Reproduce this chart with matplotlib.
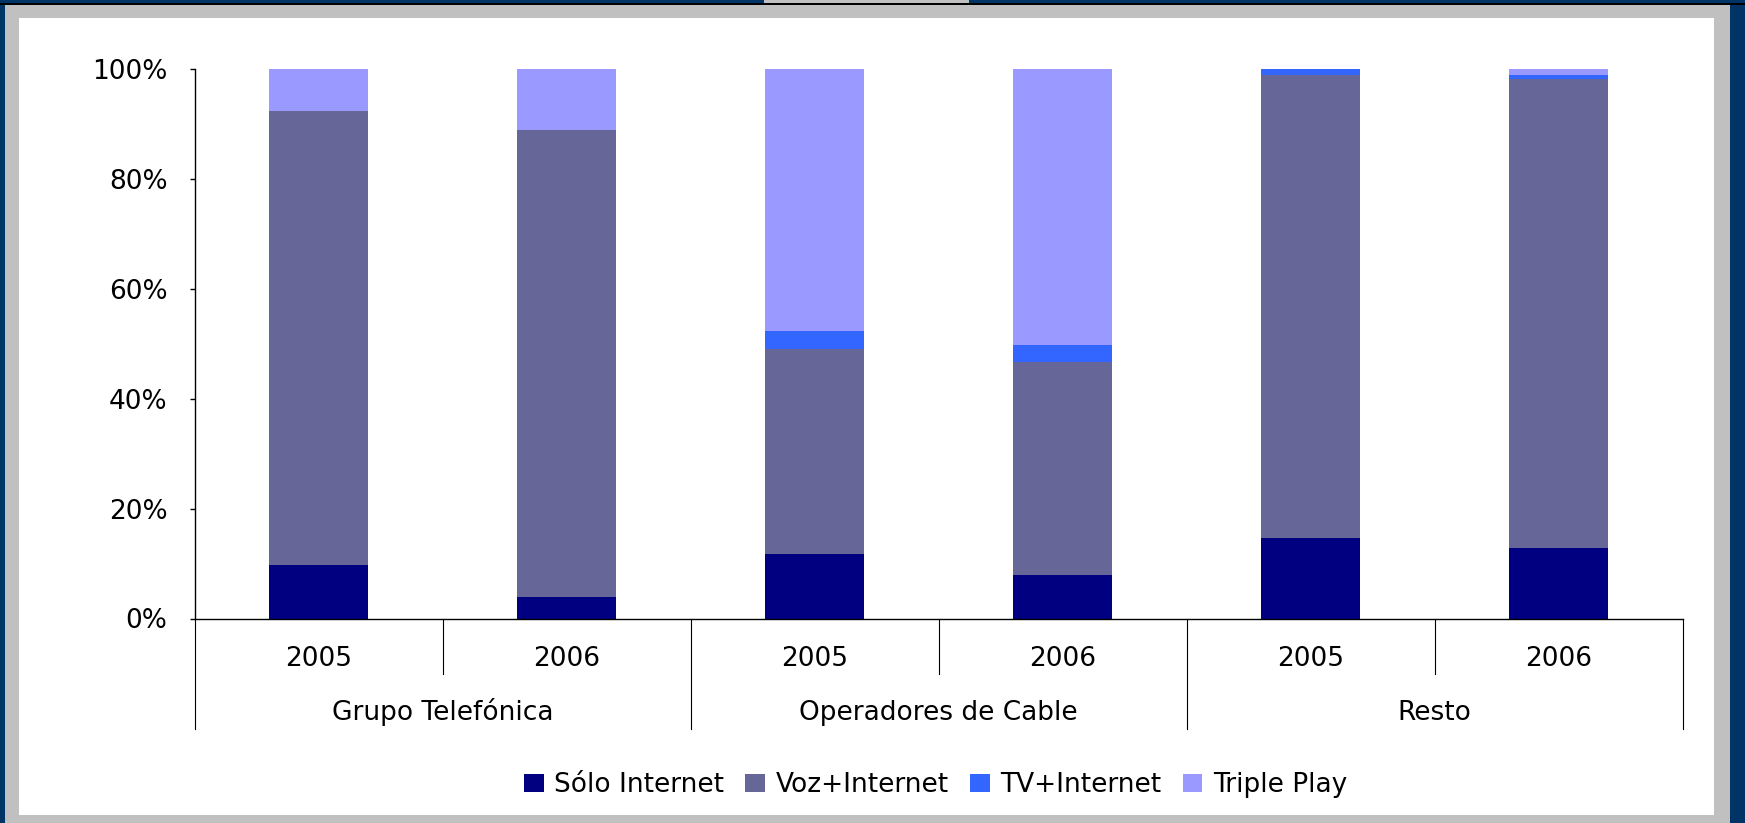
import matplotlib.pyplot as plt
import matplotlib.patches as mpatches
from matplotlib.ticker import PercentFormatter

plt.rcParams['font.family'] = ['DejaVu Sans']

years = ['2005', '2006', '2005', '2006', '2005', '2006']
groups = ['Grupo Telefónica', 'Operadores de Cable', 'Resto']
series = ['Sólo Internet', 'Voz+Internet', 'TV+Internet', 'Triple Play']
colors = ['#000080', '#666699', '#3366FF', '#9999FF']

solo = [9.7, 3.9, 11.7, 7.9, 14.6, 12.8]
voz = [82.6, 85.0, 37.3, 38.8, 84.3, 85.4]
tv = [0.0, 0.0, 3.3, 3.1, 1.1, 0.7]
triple = [7.7, 11.1, 47.7, 50.2, 0.0, 1.1]

W, H = 1745, 823
FS = 19
fig = plt.figure(figsize=(W / 100, H / 100), dpi=100, facecolor='#003366')

# frame: gray border + white panel
def frame_rect(x0, y0, w, h, color):
    fig.patches.append(mpatches.Rectangle((x0 / W, y0 / H), w / W, h / H, transform=fig.transFigure,
                                          facecolor=color, edgecolor='none', zorder=-5))

frame_rect(5, 0, 1725, 818, '#C0C0C0')
frame_rect(0, H - 5, W, 2, 'black')
frame_rect(764, H - 3, 205, 3, '#C0C0C0')
frame_rect(19, 8, 1695, 797, 'white')

ax = fig.add_axes([194.8 / W, 204.5 / H, 1487.9 / W, 549.5 / H])
ax.set_facecolor('none')

x = range(len(years))
bw = 0.40
bottom = [0.0] * len(years)
for vals, name, c in zip([solo, voz, tv, triple], series, colors):
    ax.bar(x, vals, bw, bottom=bottom, color=c, label=name, linewidth=0)
    bottom = [b + v for b, v in zip(bottom, vals)]

ax.set_xlim(-0.5, 5.5)
ax.set_ylim(0, 100)
ax.set_yticks([0, 20, 40, 60, 80, 100])
ax.yaxis.set_major_formatter(PercentFormatter(decimals=0))
ax.tick_params(axis='y', length=3.6, width=1, pad=16, labelsize=FS, color='black')
ax.set_xticks([])
for s in ['top', 'right']:
    ax.spines[s].set_visible(False)
ax.spines['left'].set_linewidth(1)
ax.spines['bottom'].set_linewidth(1)

# category axis: years, groups and separators
tr = ax.get_xaxis_transform()
for i, yr in enumerate(years):
    ax.text(i, -0.0859, yr, transform=tr, ha='center', va='baseline', fontsize=FS)
for g, name in enumerate(groups):
    ax.text(2 * g + 0.5, -0.1847, name, transform=tr, ha='center', va='baseline', fontsize=FS)
for xs in [0.5, 2.5, 4.5]:
    ax.plot([xs, xs], [0, -0.101], transform=tr, color='black', lw=0.8, clip_on=False)
for xs in [-0.5, 1.5, 3.5, 5.5]:
    ax.plot([xs, xs], [0, -0.2011], transform=tr, color='black', lw=0.8, clip_on=False)

fig.legend(loc='center', bbox_to_anchor=(935.5 / W, 38 / H), ncol=4, frameon=False, fontsize=FS,
           handlelength=0.75, handleheight=0.7, handletextpad=0.4, columnspacing=0.8, borderpad=0)

fig.savefig('out.png', dpi=100, facecolor=fig.get_facecolor())
